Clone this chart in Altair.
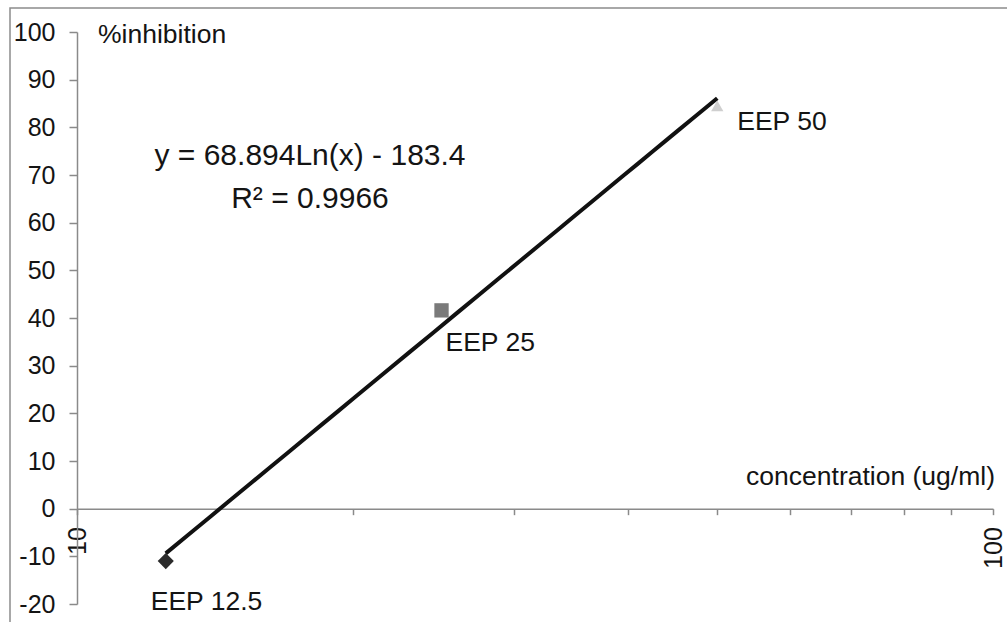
import altair as alt
import pandas as pd

# Measured samples
labels = ["EEP 12.5", "EEP 25", "EEP 50"]
concentration = [12.5, 25, 50]
inhibition = [-11.0, 41.6, 84.5]

y_ticks = list(range(-20, 101, 10))
x_ticks = list(range(10, 101, 10))

equation_text = "y = 68.894Ln(x) - 183.4"
r2_text = "R² = 0.9966"

FONT = "Liberation Sans"
TEXT_COLOR = "#141414"
AXIS_COLOR = "#8a8a8a"

W, H = 916, 572

df = pd.DataFrame({"label": labels, "conc": concentration, "inh": inhibition})

x_scale = alt.Scale(type="log", domain=[10, 100], nice=False)
y_scale = alt.Scale(domain=[-20, 100], nice=False, zero=False)

x_axis = alt.Axis(
    values=x_ticks,
    labelExpr="(datum.value == 10 || datum.value == 100) ? '' + datum.value : ''",
    labelAngle=-90,
    labelFont=FONT,
    labelFontSize=25,
    labelColor=TEXT_COLOR,
    labelPadding=12,
    labelOverlap=False,
    labelFlush=False,
    tickSize=6,
    tickColor=AXIS_COLOR,
    tickWidth=1.5,
    domainColor=AXIS_COLOR,
    domainWidth=1.5,
    grid=False,
    title=None,
    offset=-(H * 20 / 120),
)

y_axis = alt.Axis(
    values=y_ticks,
    labelExpr="datum.value < 0 ? '-' + abs(datum.value) : '' + datum.value",
    labelFont=FONT,
    labelFontSize=25,
    labelColor=TEXT_COLOR,
    labelPadding=14,
    tickSize=8,
    tickColor=AXIS_COLOR,
    tickWidth=1.5,
    domainColor=AXIS_COLOR,
    domainWidth=1.5,
    grid=False,
    title=None,
)

base = alt.Chart(df)

# Logarithmic trend line fitted to the three samples
trend = base.transform_regression("conc", "inh", method="log").mark_line(
    color="#111111", strokeWidth=4
).encode(
    x=alt.X("conc:Q", scale=x_scale, axis=x_axis),
    y=alt.Y("inh:Q", scale=y_scale, axis=y_axis),
)

points = base.mark_point(filled=True, opacity=1).encode(
    x=alt.X("conc:Q", scale=x_scale),
    y=alt.Y("inh:Q", scale=y_scale),
    shape=alt.Shape(
        "label:N",
        scale=alt.Scale(domain=labels, range=["diamond", "square", "triangle-up"]),
        legend=None,
    ),
    color=alt.Color(
        "label:N",
        scale=alt.Scale(domain=labels, range=["#2b2b2b", "#7a7a7a", "#cfcfcf"]),
        legend=None,
    ),
    size=alt.Size(
        "label:N",
        scale=alt.Scale(domain=labels, range=[260, 150, 180]),
        legend=None,
    ),
)

# Point labels, each with its own offset from the marker
offsets = {"EEP 12.5": (-15, 49), "EEP 25": (4, 41), "EEP 50": (20, 24)}
point_labels = [
    base.transform_filter(alt.datum.label == name)
    .mark_text(
        align="left", baseline="alphabetic", dx=dx, dy=dy,
        font=FONT, fontSize=26.5, color=TEXT_COLOR,
    )
    .encode(
        x=alt.X("conc:Q", scale=x_scale),
        y=alt.Y("inh:Q", scale=y_scale),
        text="label:N",
    )
    for name, (dx, dy) in offsets.items()
]

one = alt.Chart(pd.DataFrame({"k": [0]}))


def note(text, x, y, align="left", size=26.5):
    return one.mark_text(
        text=text, align=align, baseline="alphabetic",
        font=FONT, fontSize=size, color=TEXT_COLOR,
    ).encode(x=alt.value(x), y=alt.value(y))


frame = one.mark_rect(fill=None, stroke="#8c8c8c", strokeWidth=1.5).encode(
    x=alt.value(-67), x2=alt.value(935), y=alt.value(-24), y2=alt.value(595)
)

chart = alt.layer(
    frame,
    trend,
    points,
    *point_labels,
    note("%inhibition", 21, 11),
    note("concentration (ug/ml)", 918, 453, align="right"),
    note(equation_text, 233, 133, align="center", size=30),
    note(r2_text, 233, 176, align="center", size=30),
).properties(
    width=W,
    height=H,
    autosize=alt.AutoSizeParams(type="none"),
    padding={"left": 77, "top": 32, "right": 14, "bottom": 18},
    background="white",
).configure_view(stroke=None)

chart.save("out.html", embed_options={"renderer": "svg", "actions": False})
